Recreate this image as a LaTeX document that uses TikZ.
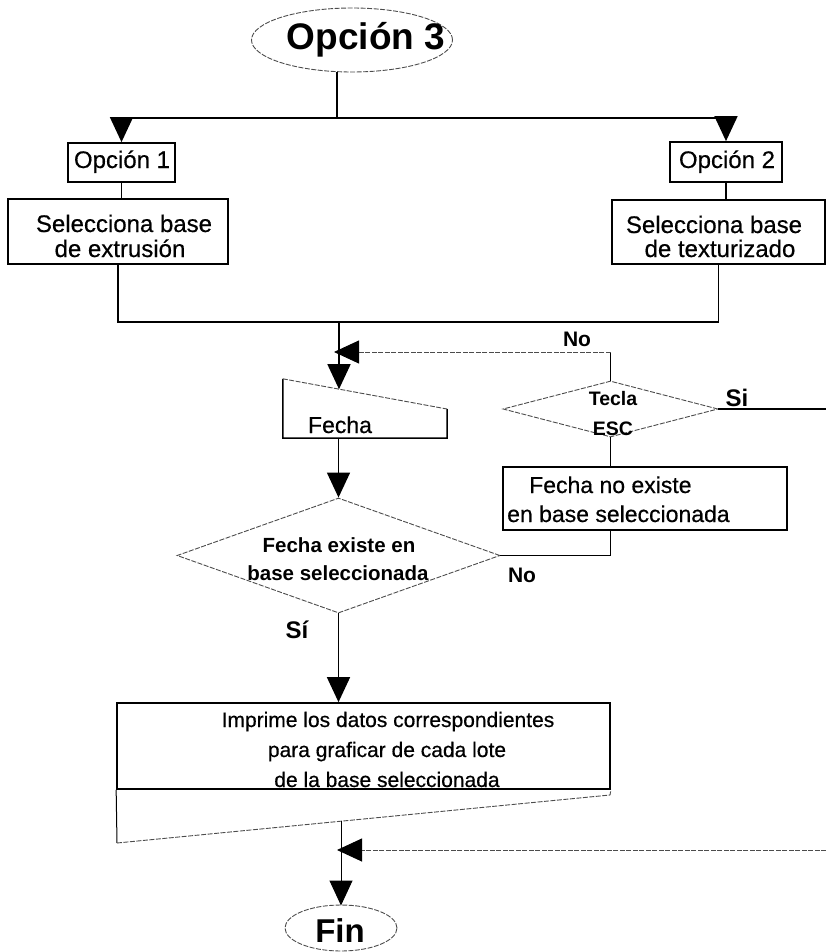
\documentclass[tikz,border=0pt]{standalone}
\usepackage{fontspec}
\setmainfont{Liberation Sans}[UprightFeatures={FakeBold=0.5}]
\usetikzlibrary{shapes.geometric,arrows.meta}
\tikzset{
  flow/.style={line width=1.5pt, black},
  hair/.style={line width=1pt, black},
  faint/.style={line width=0.9pt, black!70, dash pattern=on 5pt off 1.5pt},
  stepbox/.style={draw, line width=1.7pt, inner sep=0pt, rectangle},
  outline/.style={draw, line width=0.9pt, black!70, dash pattern=on 5pt off 1.5pt, inner sep=0pt},
  tip/.style={-{Triangle[length=25pt,width=23pt,color=black]}},
  lbl/.style={anchor=base, inner sep=0pt},
  txt/.style={lbl, font=\fontsize{24}{24}\selectfont},
  txtm/.style={lbl, font=\fontsize{23}{23}\selectfont},
  txts/.style={lbl, font=\fontsize{21}{21}\selectfont},
  bold/.style={lbl, font=\fontsize{#1}{#1}\selectfont\bfseries},
}
\begin{document}
\begin{tikzpicture}[x=1pt,y=-1pt]
\useasboundingbox (0,0) rectangle (826,952);

% ---- shapes ----
\node[ellipse, outline, minimum width=201pt, minimum height=64pt] (opt3) at (352,40) {};
\node[stepbox, minimum width=107pt, minimum height=39pt] (o1) at (121.5,162.5) {};
\node[stepbox, minimum width=112pt, minimum height=40pt] (o2) at (726,162) {};
\node[stepbox, minimum width=220pt, minimum height=65pt] (sel1) at (118,231.5) {};
\node[stepbox, minimum width=213pt, minimum height=64pt] (sel2) at (718.5,232) {};
\node[inner sep=0pt, minimum width=164pt, minimum height=59pt] (fecha) at (365,408.5) {};
\node[diamond, outline, minimum width=215pt, minimum height=56pt] (esc) at (610.5,409) {};
\node[stepbox, minimum width=284pt, minimum height=63pt] (nofe) at (645,498.5) {};
\node[diamond, outline, minimum width=323pt, minimum height=115pt] (cond) at (338.5,555.5) {};
\node[stepbox, minimum width=493pt, minimum height=86pt] (impr) at (363.5,746) {};
\node[ellipse, outline, minimum width=112pt, minimum height=46pt] (fin) at (341,928) {};

% manual input outline of the date entry
\coordinate (fechatr) at (447,409);
\draw[flow] (fecha.north west) -- (fecha.south west) -- (fecha.south east) -- (fechatr);
\draw[faint] (fecha.north west) -- (fechatr);

% printed-document tail under the report box
\coordinate (docl) at (117,843);
\coordinate (docr) at (610,795);
\draw[hair] (impr.south west) -- (docl);
\draw[faint] (docl) -- (docr) -- (impr.south east);

% ---- texts ----
\node[bold=37] (opt3t) at (366,50) {Opción 3};
\node[txt] (o1t) at (122,168) {Opción 1};
\node[txt] (o2t) at (727,168) {Opción 2};
\node[txt] (sel1a) at (124,232) {Selecciona base};
\node[txt] (sel1b) at (120,257) {de extrusión};
\node[txt] (sel2a) at (714,233) {Selecciona base};
\node[txt] (sel2b) at (720,257) {de texturizado};
\node[bold=21] (notop) at (577,346) {No};
\node[txtm] (fechat) at (340,433) {Fecha};
\node[bold=19.5] (esca) at (613,405) {Tecla};
\node[bold=19.5] (escb) at (613,435) {ESC};
\node[bold=24] (sit) at (737,406) {Si};
\node[txtm, anchor=base west] (nofea) at (529,493) {Fecha no existe};
\node[txtm, anchor=base west] (nofeb) at (507,522) {en base seleccionada};
\node[bold=20.5] (conda) at (339,552) {Fecha existe en};
\node[bold=20.5] (condb) at (338,580) {base seleccionada};
\node[bold=21] (nolow) at (522,582) {No};
\node[bold=24] (sil) at (297,638) {Sí};
\node[txts] (impra) at (388,727) {Imprime los datos correspondientes};
\node[txts] (imprb) at (387,757) {para graficar de cada lote};
\node[txts] (imprc) at (387,787) {de la base seleccionada};
\node[bold=33] (fint) at (340,942) {Fin};

% ---- connectors ----
\coordinate (split) at (337,118);
\coordinate (lsplit) at (121.5,118);
\coordinate (rsplit) at (726,118);
\draw[flow] (split |- opt3.south) -- (split);
\draw[flow] (lsplit) -- (rsplit);
\draw[flow, tip] (lsplit) -- (o1.north);
\draw[flow, tip] (rsplit) -- (o2.north);
\draw[flow] (o1.south) -- (o1.south |- sel1.north);
\draw[flow] (o2.south) -- (o2.south |- sel2.north);

\coordinate (merge) at (339,322);
\draw[flow] (sel1.south) |- (merge);
\draw[flow] (sel2.south) |- (merge);
\coordinate (fechain) at (339,389.2);
\draw[flow, tip] (merge) -- (fechain);

% retry loop when the date is missing
\coordinate (noret) at (610.5,352);
\coordinate (noend) at (334,352);
\draw[flow] (esc.north) -- (noret);
\draw[faint, tip] (noret) -- (noend);
\coordinate (siout) at (826,409);
\draw[flow] (esc.east) -- (siout);
\draw[flow] (esc.south) -- (esc.south |- nofe.north);
\draw[flow] (esc.south |- nofe.south) |- (cond.east);

\draw[flow, tip] (cond.north |- fecha.south) -- (cond.north);
\draw[flow, tip] (cond.south) -- (cond.south |- impr.north);

\coordinate (docmid) at (341,821.2);
\coordinate (finin) at (341,905.5);
\draw[hair, tip] (docmid) -- (finin);
\coordinate (ret) at (826,850);
\coordinate (retend) at (337,850);
\draw[faint, tip] (ret) -- (retend);
\end{tikzpicture}
\end{document}
